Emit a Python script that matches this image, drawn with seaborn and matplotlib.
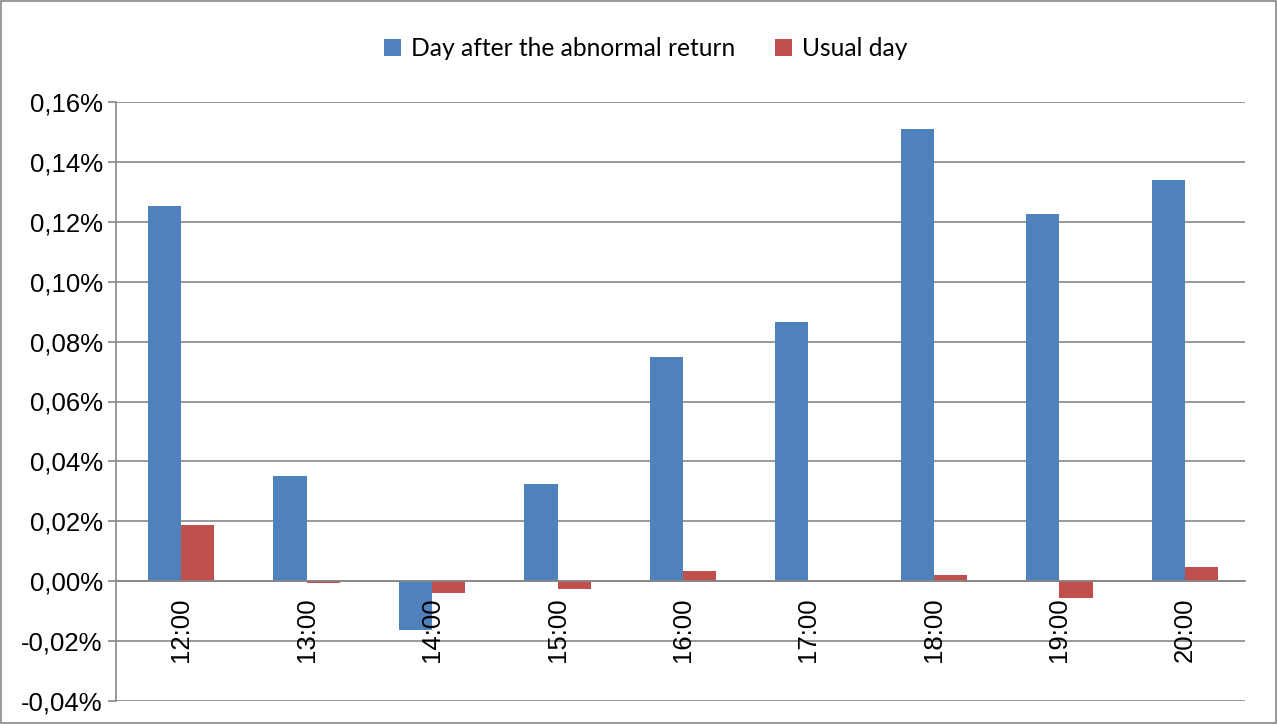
import pandas as pd
import matplotlib.pyplot as plt
import seaborn as sns
from matplotlib.ticker import FuncFormatter, FixedLocator

hours = ['12:00', '13:00', '14:00', '15:00', '16:00', '17:00', '18:00', '19:00', '20:00']
after_abnormal = [0.1252, 0.0351, -0.0164, 0.0326, 0.0748, 0.0866, 0.1510, 0.1226, 0.1340]
usual_day = [0.0187, -0.0005, -0.0040, -0.0026, 0.0033, 0.0, 0.0021, -0.0057, 0.0049]
series = ['Day after the abnormal return', 'Usual day']
yticks = [-0.04, -0.02, 0.0, 0.02, 0.04, 0.06, 0.08, 0.10, 0.12, 0.14, 0.16]

df = pd.DataFrame({
    'hour': hours * 2,
    'value': after_abnormal + usual_day,
    'series': [series[0]] * len(hours) + [series[1]] * len(hours),
})

sns.set_style('white')
plt.rcParams['font.family'] = ['Liberation Sans', 'DejaVu Sans']
plt.rcParams['text.color'] = 'black'
plt.rcParams['xtick.color'] = 'black'
plt.rcParams['ytick.color'] = 'black'

fig = plt.figure(figsize=(12.77, 7.24), dpi=100)
ax = fig.add_axes([116 / 1277, 1 - 701 / 724, (1245 - 116) / 1277, (701 - 102) / 724])

# gridlines drawn by hand below the bars, so tick labels can sit on top of the bars
for y in yticks:
    ax.axhline(y, color='#878787', linewidth=1.2, zorder=0)

sns.barplot(data=df, x='hour', y='value', hue='series', order=hours,
            palette=['#4F81BD', '#C0504D'], width=0.53, linewidth=0,
            saturation=1, ax=ax)

ax.set_xlim(-0.52, len(hours) - 0.52)
ax.set_ylim(-0.04, 0.16)
ax.set_yticks(yticks)
ax.yaxis.set_major_formatter(FuncFormatter(lambda v, p: f'{v:.2f}%'.replace('.', ',').replace('-0,00', '0,00')))
ax.grid(False)
ax.set_axisbelow(False)

# x axis sits on the zero line, labels rotated under it
ax.spines['bottom'].set_position(('data', 0))
for s in ['top', 'right']:
    ax.spines[s].set_visible(False)
for s in ['left', 'bottom']:
    ax.spines[s].set_color('#878787')
    ax.spines[s].set_linewidth(1.2)
ax.xaxis.set_minor_locator(FixedLocator([i + 0.48 for i in range(-1, len(hours))]))
ax.tick_params(axis='x', which='major', length=0, pad=12, labelsize=18.5, rotation=90, labelcolor='black')
ax.tick_params(axis='x', which='minor', length=8, width=1.2, color='#878787', direction='out')
ax.tick_params(axis='y', length=6, width=1.2, color='#878787', direction='out', labelsize=18.5,
               left=True, labelcolor='black')
ax.set_xlabel('')
ax.set_ylabel('')

leg = ax.legend(loc='upper center', bbox_to_anchor=(0.469, 1.145), ncol=2, frameon=False,
                handlelength=0.7, handleheight=0.7, columnspacing=1.6,
                handletextpad=0.4, prop={'family': ['Lato', 'DejaVu Sans'], 'size': 17.7})
for t in leg.get_texts():
    t.set_color('black')

fig.patches.append(plt.Rectangle((0.001, 0.001), 0.998, 0.998, transform=fig.transFigure,
                                 fill=False, edgecolor='#878787', linewidth=1.2))

fig.savefig('out.png', dpi=100)
